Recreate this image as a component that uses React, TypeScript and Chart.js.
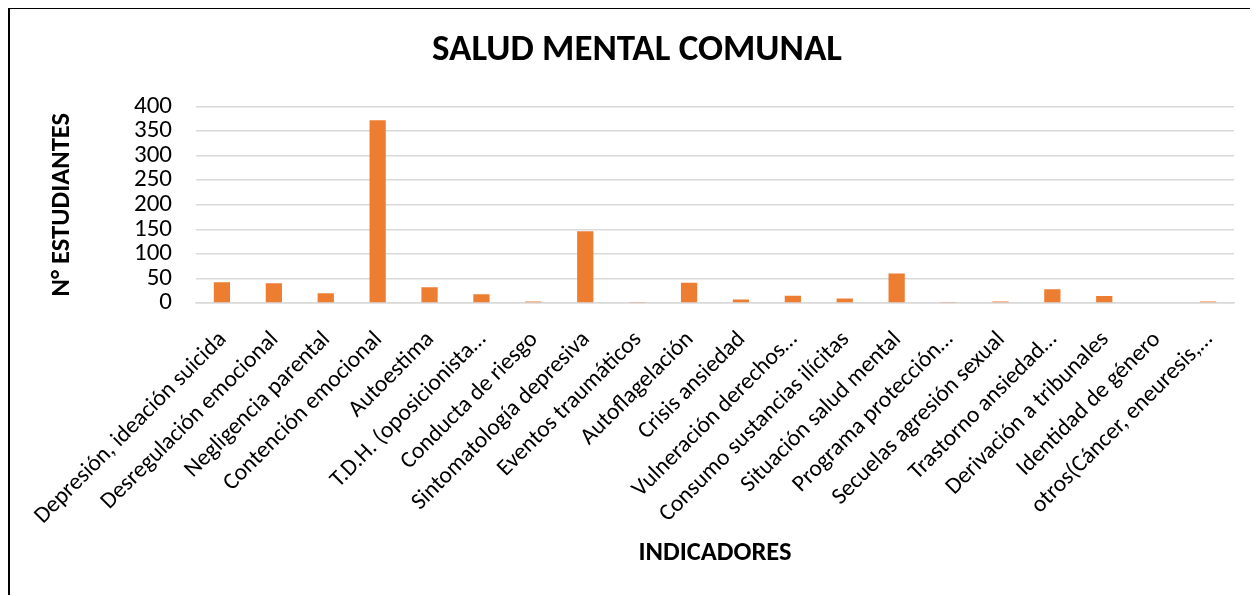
import React, { useEffect, useRef } from "react";
import { Chart, registerables } from "chart.js";

Chart.register(...registerables);

const chartTitle = "SALUD MENTAL COMUNAL";
const yAxisTitle = "N° ESTUDIANTES";
const xAxisTitle = "INDICADORES";

const categories: string[] = [
  "Depresión, ideación suicida",
  "Desregulación emocional",
  "Negligencia parental",
  "Contención emocional",
  "Autoestima",
  "T.D.H. (oposicionista…",
  "Conducta de riesgo",
  "Sintomatología depresiva",
  "Eventos traumáticos",
  "Autoflagelación",
  "Crisis ansiedad",
  "Vulneración derechos…",
  "Consumo sustancias ilícitas",
  "Situación salud mental",
  "Programa protección…",
  "Secuelas agresión sexual",
  "Trastorno ansiedad…",
  "Derivación a tribunales",
  "Identidad de género",
  "otros(Cáncer, eneuresis,…",
];

const estudiantes: number[] = [42, 40, 20, 372, 32, 18, 3, 146, 1, 41, 7, 15, 9, 60, 1, 3, 28, 14, 0, 3];

const yTicks: number[] = [0, 50, 100, 150, 200, 250, 300, 350, 400];

const FONT = "Carlito, Lato, 'Open Sans', sans-serif";

export default function App() {
  const ref = useRef<HTMLCanvasElement | null>(null);

  useEffect(() => {
    document.documentElement.style.overflow = "hidden";
    document.body.style.overflow = "hidden";
    if (!ref.current) return;
    const chart = new Chart(ref.current, {
      type: "bar",
      data: {
        labels: categories,
        datasets: [
          {
            label: yAxisTitle,
            data: estudiantes,
            backgroundColor: "#ED7D31",
            borderWidth: 0,
            categoryPercentage: 1,
            barPercentage: 0.313,
          },
        ],
      },
      options: {
        responsive: false,
        animation: false,
        maintainAspectRatio: false,
        layout: { padding: { left: 0, right: 0, top: 0, bottom: 0 } },
        plugins: {
          legend: { display: false },
          tooltip: { enabled: false },
          title: {
            display: true,
            text: chartTitle,
            color: "#000",
            font: { family: FONT, size: 37, weight: "bold" },
            padding: { top: 20, bottom: 33 },
          },
        },
        scales: {
          x: {
            grid: { display: false, drawTicks: false },
            border: { display: true, color: "#D9D9D9", width: 1.5 },
            ticks: {
              color: "#000",
              font: { family: FONT, size: 23.5 },
              maxRotation: 45,
              minRotation: 45,
              autoSkip: false,
              padding: 23,
              labelOffset: 1,
            },
            title: {
              display: true,
              text: xAxisTitle,
              color: "#000",
              font: { family: FONT, size: 26.5, weight: "bold" },
              padding: { top: 0, bottom: 26 },
            },
            afterFit: (scale: any) => {
              scale.height = 292;
            },
          },
          y: {
            min: 0,
            max: 400,
            afterBuildTicks: (scale: any) => {
              scale.ticks = yTicks.map((v) => ({ value: v }));
            },
            grid: { color: "#D9D9D9", lineWidth: 1.5, drawTicks: false },
            border: { display: false },
            ticks: {
              color: "#000",
              font: { family: FONT, size: 25 },
              padding: 24,
              autoSkip: false,
            },
            title: {
              display: true,
              text: yAxisTitle,
              color: "#000",
              font: { family: FONT, size: 26.5, weight: "bold" },
              padding: { top: 36, bottom: 0 },
            },
            afterFit: (scale: any) => {
              scale.width = 186;
            },
          },
          yRight: {
            position: "right",
            display: true,
            min: 0,
            max: 400,
            grid: { display: false, drawOnChartArea: false, drawTicks: false },
            border: { display: false },
            ticks: { display: false },
            afterFit: (scale: any) => {
              scale.width = 30;
            },
          },
        },
      } as any,
    });
    return () => chart.destroy();
  }, []);

  return (
    <div
      style={{
        borderLeft: "2px solid #000",
        borderTop: "2px solid #000",
        height: 586,
        width: 1246,
        marginTop: -1,
        overflow: "hidden",
        background: "#fff",
      }}
    >
      <canvas ref={ref} width={1254} height={586} style={{ display: "block" }} />
    </div>
  );
}
